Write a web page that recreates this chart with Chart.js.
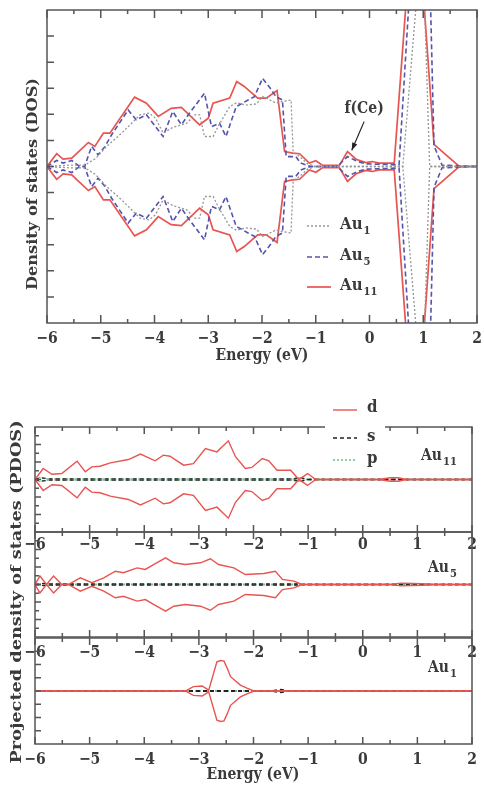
<!DOCTYPE html>
<html>
<head>
<meta charset="utf-8">
<script src="https://cdn.jsdelivr.net/npm/chart.js@4.4.0/dist/chart.umd.min.js"></script>
<style>
html,body{margin:0;padding:0;background:#fff;}
#wrap{position:relative;width:484px;height:794px;}
#wrap canvas{position:absolute;left:0;top:0;}
</style>
</head>
<body>
<div id="wrap">
<canvas id="dos" width="484" height="794"></canvas>
<canvas id="p11" width="484" height="794"></canvas>
<canvas id="p5" width="484" height="794"></canvas>
<canvas id="p1" width="484" height="794"></canvas>
</div>
<script>
// energy axis
const energyTicks = [-6, -5, -4, -3, -2, -1, 0, 1, 2];
const energyMinor = [-5.5, -4.5, -3.5, -2.5, -1.5, -0.5, 0.5, 1.5];
const tickLabels = ['\u22126', '\u22125', '\u22124', '\u22123', '\u22122', '\u22121', '0', '1', '2'];

// top panel: total DOS (spin up, spin down is the mirror)
const au11E = [-6, -5.82, -5.7, -5.54, -5.23, -5.11, -4.95, -4.83, -4.37, -4.15, -3.93, -3.69, -3.5, -3.16, -3.0, -2.91, -2.6, -2.47, -2.33, -2.08, -1.92, -1.72, -1.58, -1.43, -1.3, -1.12, -1.0, -0.87, -0.56, -0.41, -0.25, -0.07, 0.05, 0.18, 0.46, 0.85, 1.2, 1.45, 1.66, 2];
const au11 = [0, 0.49, 0.28, 0.32, 0.92, 0.77, 1.28, 1.28, 2.66, 2.43, 1.92, 2.23, 2.27, 1.6, 1.85, 2.43, 2.62, 3.26, 3.07, 2.62, 2.62, 2.91, 0.57, 0.51, 0.49, 0.13, 0.22, 0.04, 0.04, 0.57, 0.28, 0.15, 0.19, 0.13, 0.13, 11, 0.85, 0.4, 0.02, 0];
const au5E = [-6, -5.82, -5.7, -5.54, -5.39, -5.3, -5.17, -5.05, -4.92, -4.8, -4.49, -4.34, -4.15, -3.84, -3.66, -3.5, -3.35, -3.07, -2.94, -2.79, -2.67, -2.48, -2.36, -2.26, -2.14, -1.99, -1.86, -1.74, -1.62, -1.55, -1.37, -1.28, -1.09, -0.6, -0.41, -0.22, -0.05, 0.55, 1.02, 1.2, 1.35, 2];
const au5 = [0, 0.23, 0.13, 0.23, 0, 0, 0.77, 0.45, 0.77, 1.21, 2.17, 1.79, 1.98, 1.15, 2.11, 1.6, 2.04, 2.81, 1.53, 1.66, 1.15, 2.3, 2.43, 2.55, 2.68, 3.38, 3.04, 2.68, 2.55, 0.38, 0.38, 0.13, 0, 0, 0.38, 0.19, 0.1, 0.06, 16, 0.8, 0.05, 0];
const au1E = [-6, -5.6, -5.3, -5.1, -4.9, -4.6, -4.27, -4.1, -3.98, -3.84, -3.66, -3.4, -3.25, -3.16, -3.07, -2.91, -2.8, -2.6, -2.47, -2.3, -2.1, -1.99, -1.9, -1.74, -1.6, -1.46, -1.42, -1.3, -1.15, -1.0, 0.62, 0.98, 1.12, 2];
const au1 = [0, 0.05, 0.05, 0.3, 0.75, 1.3, 1.98, 2.05, 1.85, 1.28, 1.5, 1.66, 1.98, 1.98, 1.15, 1.15, 1.6, 2.3, 2.45, 2.35, 2.4, 2.68, 2.6, 2.43, 2.5, 2.55, 0.55, 0.38, 0.1, 0, 0, 9, 0, 0];

// bottom panels: projected DOS (d, s, p)
const pd11E = [-6, -5.85, -5.69, -5.51, -5.23, -5.08, -4.96, -4.81, -4.62, -4.29, -4.07, -3.8, -3.65, -3.53, -3.28, -3.1, -2.88, -2.67, -2.46, -2.33, -2.15, -2.03, -1.84, -1.72, -1.57, -1.32, -1.17, -1.01, -0.86, 0.3, 0.5, 0.65, 0.8, 2];
const pd11 = [0, 0.63, 0.3, 0.34, 1.05, 0.44, 0.72, 0.76, 0.95, 1.14, 1.45, 1.07, 1.39, 1.33, 0.82, 0.91, 1.77, 1.58, 2.21, 1.3, 0.63, 0.69, 1.2, 1.07, 0.53, 0.53, 0, 0.34, 0, 0, 0.1, 0.1, 0, 0];
const ps11E = [-6, -5.9, -5.75, -1.25, -1.12, -1.0, 2];
const ps11 = [0, 0.1, 0.04, 0.04, 0.1, 0, 0];
const pp11E = [-6, -5.92, -5.8, -1.3, -1.2, -1.05, 2];
const pp11 = [0, 0.12, 0.03, 0.03, 0.12, 0, 0];

const pd5E = [-6, -5.91, -5.79, -5.66, -5.51, -5.39, -5.17, -4.96, -4.74, -4.53, -4.38, -4.13, -3.98, -3.83, -3.61, -3.46, -3.25, -2.97, -2.79, -2.64, -2.36, -2.15, -1.81, -1.6, -1.47, -1.26, -1.11, 0.5, 0.7, 0.9, 1.1, 1.3, 2];
const pd5 = [0, 0.48, 0, 0.48, 0, 0, 0.38, 0.1, 0.38, 0.76, 0.67, 0.95, 0.86, 1.14, 1.52, 1.24, 1.14, 1.24, 1.47, 1.14, 0.95, 0.57, 0.63, 0.76, 0.29, 0.19, 0, 0, 0.08, 0.06, 0.04, 0, 0];
const ps5E = [-6, -5.85, -5.7, -1.2, -1.1, 2];
const ps5 = [0, 0.06, 0.03, 0.03, 0, 0];
const pp5E = [-6, -5.8, -5.6, -1.25, -1.12, 2];
const pp5 = [0, 0.05, 0.02, 0.02, 0, 0];

const pd1E = [-6, -3.25, -3.1, -2.94, -2.82, -2.67, -2.6, -2.54, -2.48, -2.42, -2.24, -2.11, -1.99, 2];
const pd1 = [0, 0, 0.33, 0.38, 0.06, 2.2, 2.3, 2.25, 1.71, 1.08, 0.45, 0.2, 0, 0];
const ps1E = [-6, -3.7, -3.4, -2.2, -1.65, -1.5, -1.35, 2];
const ps1 = [0, 0, 0.03, 0.03, 0.03, 0.12, 0, 0];
const pp1E = [-6, -3.2, -3.0, -2.3, -2.1, 2];
const pp1 = [0, 0, 0.03, 0.03, 0, 0];

const W = 484, H = 794;
const FONT = '"DejaVu Serif", serif';
const INK = '#3a3a3a';
const FRAME = '#555';
const RED = 'rgb(232,84,80)';
const BLUE = 'rgb(84,84,172)';
const GRAY = 'rgb(150,150,150)';
const BLACK = '#222';
const GREEN = 'rgb(110,190,140)';
const STRETCH = 1.15;

function pts(e, v, sign) {
    return e.map((x, i) => ({x: x, y: sign * v[i]}));
}

function line(e, v, sign, color, dash, width) {
    return {data: pts(e, v, sign), borderColor: color, borderDash: dash, borderWidth: width, fill: false};
}

function both(e, v, color, dash, width) {
    return [line(e, v, 1, color, dash, width), line(e, v, -1, color, dash, width)];
}

function txt(ctx, s, x, y, size, opts) {
    opts = opts || {};
    ctx.save();
    ctx.translate(x, y);
    if (opts.rot) ctx.rotate(-Math.PI / 2);
    ctx.font = 'bold ' + size + 'px ' + FONT;
    let sx = 1, sy = STRETCH;
    if (opts.len) { sx = opts.len / ctx.measureText(s).width; sy = 1; }
    ctx.scale(sx, sy);
    ctx.fillStyle = INK;
    ctx.textAlign = opts.align || 'center';
    ctx.textBaseline = 'middle';
    ctx.fillText(s, 0, 0);
    ctx.restore();
}

function auLabel(ctx, sub, x, y, size) {
    ctx.save();
    ctx.font = 'bold ' + size + 'px ' + FONT;
    const w = ctx.measureText('Au').width;
    ctx.restore();
    txt(ctx, 'Au', x, y, size, {align: 'left'});
    txt(ctx, sub, x + w + 1, y + size * 0.4, Math.round(size * 0.68), {align: 'left'});
}

function sample(ctx, x0, x1, y, color, dash, width) {
    ctx.save();
    ctx.strokeStyle = color;
    ctx.lineWidth = width;
    ctx.setLineDash(dash);
    ctx.beginPath();
    ctx.moveTo(x0, y);
    ctx.lineTo(x1, y);
    ctx.stroke();
    ctx.restore();
}

function framePlugin(deco) {
    return {
        id: 'frame',
        afterDatasetsDraw(chart) {
            const ctx = chart.ctx, a = chart.chartArea;
            const x = chart.scales.x, y = chart.scales.y;
            ctx.save();
            ctx.strokeStyle = FRAME;
            ctx.lineWidth = 1.5;
            ctx.beginPath();
            energyTicks.forEach(v => {
                const px = x.getPixelForValue(v);
                ctx.moveTo(px, a.bottom); ctx.lineTo(px, a.bottom - deco.major);
                ctx.moveTo(px, a.top); ctx.lineTo(px, a.top + deco.major);
            });
            energyMinor.forEach(v => {
                const px = x.getPixelForValue(v);
                ctx.moveTo(px, a.bottom); ctx.lineTo(px, a.bottom - deco.minor);
                ctx.moveTo(px, a.top); ctx.lineTo(px, a.top + deco.minor);
            });
            deco.yTicks.forEach(v => {
                const py = y.getPixelForValue(v);
                ctx.moveTo(a.left, py); ctx.lineTo(a.left + deco.major - 1, py);
            });
            (deco.yMinor || []).forEach(v => {
                const py = y.getPixelForValue(v);
                ctx.moveTo(a.left, py); ctx.lineTo(a.left + deco.minor, py);
            });
            ctx.stroke();
            ctx.strokeRect(a.left, a.top, a.right - a.left, a.bottom - a.top);
            ctx.restore();
            energyTicks.forEach((v, i) => {
                txt(ctx, tickLabels[i], x.getPixelForValue(v), a.bottom + deco.labelGap, 14);
            });
            if (deco.extra) deco.extra(chart, ctx);
        }
    };
}

function makeChart(id, area, yRange, datasets, deco) {
    return new Chart(document.getElementById(id), {
        type: 'line',
        data: {datasets: datasets},
        options: {
            responsive: false,
            animation: false,
            devicePixelRatio: 1,
            layout: {padding: {left: area.l, top: area.t, right: W - area.r, bottom: H - area.b}},
            plugins: {legend: {display: false}, tooltip: {enabled: false}},
            elements: {point: {radius: 0}, line: {tension: 0}},
            scales: {
                x: {type: 'linear', min: -6, max: 2, display: false},
                y: {type: 'linear', min: yRange[0], max: yRange[1], display: false}
            }
        },
        plugins: [framePlugin(deco)]
    });
}

// top: DOS
makeChart('dos', {l: 47, r: 477, t: 10, b: 323}, [-6, 6],
    [].concat(
        both(au1E, au1, GRAY, [2, 2], 1.3),
        both(au5E, au5, BLUE, [5, 3], 1.6),
        both(au11E, au11, RED, [], 1.7)
    ),
    {
        major: 8, minor: 4, labelGap: 16,
        yTicks: [-5, -4, -3, -2, -1, 0, 1, 2, 3, 4, 5],
        extra(chart, ctx) {
            const x = chart.scales.x, y = chart.scales.y;
            txt(ctx, 'Energy (eV)', 262, 356, 14);
            txt(ctx, 'Density of states (DOS)', 33, 184, 14, {rot: true, len: 212});
            // legend
            sample(ctx, 307, 331, 226, GRAY, [2, 2], 1.3);
            sample(ctx, 307, 331, 257, BLUE, [5, 3], 1.6);
            sample(ctx, 307, 331, 287, RED, [], 1.7);
            auLabel(ctx, '1', 340, 225, 15);
            auLabel(ctx, '5', 340, 256, 15);
            auLabel(ctx, '11', 340, 286, 15);
            // f(Ce) annotation
            txt(ctx, 'f(Ce)', x.getPixelForValue(-0.1), y.getPixelForValue(2.2), 14);
            const x0 = x.getPixelForValue(-0.1), y0 = y.getPixelForValue(1.72);
            const x1 = x.getPixelForValue(-0.33), y1 = y.getPixelForValue(0.62);
            ctx.save();
            ctx.strokeStyle = '#222';
            ctx.fillStyle = '#222';
            ctx.lineWidth = 1.2;
            ctx.beginPath(); ctx.moveTo(x0, y0); ctx.lineTo(x1, y1); ctx.stroke();
            const ang = Math.atan2(y1 - y0, x1 - x0);
            ctx.beginPath();
            ctx.moveTo(x1, y1);
            ctx.lineTo(x1 - 8 * Math.cos(ang - 0.35), y1 - 8 * Math.sin(ang - 0.35));
            ctx.lineTo(x1 - 8 * Math.cos(ang + 0.35), y1 - 8 * Math.sin(ang + 0.35));
            ctx.closePath(); ctx.fill();
            ctx.restore();
        }
    });

// bottom: PDOS panels
function pdosSets(dE, d, sE, s, pE, p) {
    return [].concat(
        both(dE, d, RED, [], 1.4),
        both(sE, s, BLACK, [4, 3], 1.3),
        both(pE, p, GREEN, [2, 2], 1.3)
    );
}

makeChart('p11', {l: 35, r: 472, t: 427, b: 532}, [-3, 3],
    pdosSets(pd11E, pd11, ps11E, ps11, pp11E, pp11),
    {
        major: 7, minor: 4, labelGap: 13,
        yTicks: [-2, -1, 0, 1, 2], yMinor: [-2.5, -1.5, -0.5, 0.5, 1.5, 2.5],
        extra(chart, ctx) {
            ctx.save();
            ctx.fillStyle = '#fff';
            ctx.fillRect(325, 398, 60, 72);
            ctx.restore();
            sample(ctx, 333, 357, 410, RED, [], 1.4);
            sample(ctx, 333, 357, 438, BLACK, [4, 3], 1.3);
            sample(ctx, 333, 357, 460, GREEN, [2, 2], 1.3);
            txt(ctx, 'd', 367, 408, 15, {align: 'left'});
            txt(ctx, 's', 367, 437, 15, {align: 'left'});
            txt(ctx, 'p', 367, 459, 15, {align: 'left'});
            auLabel(ctx, '11', 421, 456, 14);
            txt(ctx, 'Projected density of states (PDOS)', 17, 592, 14, {rot: true, len: 343});
        }
    });

makeChart('p5', {l: 35, r: 472, t: 532, b: 637}, [-3, 3],
    pdosSets(pd5E, pd5, ps5E, ps5, pp5E, pp5),
    {
        major: 7, minor: 4, labelGap: 16,
        yTicks: [-2, -1, 0, 1, 2], yMinor: [-2.5, -1.5, -0.5, 0.5, 1.5, 2.5],
        extra(chart, ctx) {
            auLabel(ctx, '5', 428, 568, 14);
        }
    });

makeChart('p1', {l: 35, r: 472, t: 638, b: 744}, [-4, 4],
    pdosSets(pd1E, pd1, ps1E, ps1, pp1E, pp1),
    {
        major: 7, minor: 4, labelGap: 16,
        yTicks: [-3, -2, -1, 0, 1, 2, 3],
        extra(chart, ctx) {
            auLabel(ctx, '1', 428, 668, 14);
            txt(ctx, 'Energy (eV)', 253, 775, 14);
        }
    });
</script>
</body>
</html>
